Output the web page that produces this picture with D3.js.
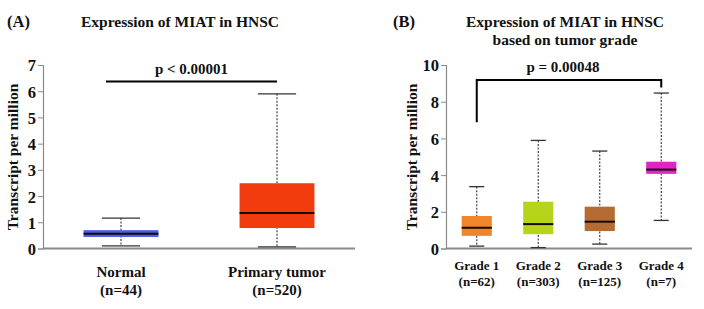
<!DOCTYPE html>
<html>
<head>
<meta charset="utf-8">
<script src="https://cdn.jsdelivr.net/npm/d3@7"></script>
<style>
  body { margin: 0; background: #fff; }
  svg text { font-family: "Liberation Serif", "Times New Roman", serif; font-weight: bold; fill: #111; }
</style>
</head>
<body>
<div id="chart"></div>
<script>
// ---- data ----
const groupsA = ['Normal', 'Primary tumor']
const countsA = ['(n=44)', '(n=520)']
const minA = [0.1, 0.06]
const q1A = [0.44, 0.78]
const medA = [0.56, 1.35]
const q3A = [0.70, 2.49]
const maxA = [1.16, 5.9]
const colorsA = ['#4a5ee0', '#f23c10']
const ticksA = [0, 1, 2, 3, 4, 5, 6, 7]
const sigA = { from: 'Normal', to: 'Primary tumor', y: 6.37, label: 'p < 0.00001' }

const groupsB = ['Grade 1', 'Grade 2', 'Grade 3', 'Grade 4']
const countsB = ['(n=62)', '(n=303)', '(n=125)', '(n=7)']
const minB = [0.13, 0.05, 0.24, 1.53]
const q1B = [0.69, 0.78, 0.95, 4.07]
const medB = [1.13, 1.33, 1.46, 4.30]
const q3B = [1.77, 2.55, 2.28, 4.73]
const maxB = [3.37, 5.89, 5.31, 8.47]
const colorsB = ['#f0862a', '#b6d41a', '#b46c32', '#e024c6']
const ticksB = [0, 2, 4, 6, 8, 10]
const sigB = { from: 'Grade 1', to: 'Grade 4', y: 9.18, leftEnd: 6.88, rightEnd: 8.78, label: 'p = 0.00048' }

const W = 704, H = 309

const svg = d3.select('#chart').append('svg')
    .attr('width', W)
    .attr('height', H)

function build_panel(opt) {
    const x = d3.scaleBand().domain(opt.groups).range([opt.left, opt.right])
    const y = d3.scaleLinear().domain([0, opt.ymax]).range([248.5, 65])
    const g = svg.append('g')

    // y axis
    const yAxis = g.append('g')
        .attr('transform', 'translate(' + opt.left + ',0)')
        .call(d3.axisLeft(y).tickValues(opt.ticks).tickFormat(d3.format('d')).tickSize(5).tickPadding(2))
    yAxis.select('.domain').attr('stroke', '#8a8a8a').attr('stroke-width', 1.2)
    yAxis.selectAll('.tick line').attr('stroke', '#8a8a8a')
    yAxis.selectAll('.tick text')
        .attr('font-size', 16.5)
        .attr('font-family', '"Liberation Serif", serif')
        .attr('font-weight', 'bold')
        .attr('fill', '#111')
        .attr('dy', '0.36em')

    // x axis line
    g.append('line')
        .attr('x1', opt.left).attr('x2', opt.right)
        .attr('y1', y(0)).attr('y2', y(0))
        .attr('stroke', '#8a8a8a').attr('stroke-width', 2)

    const bw = x.bandwidth() * opt.boxFrac
    const cw = x.bandwidth() * opt.capFrac

    opt.groups.forEach(function (name, i) {
        const cx = x(name) + x.bandwidth() / 2
        // whisker
        g.append('line')
            .attr('x1', cx).attr('x2', cx)
            .attr('y1', y(opt.max[i])).attr('y2', y(opt.min[i]))
            .attr('stroke', '#444').attr('stroke-width', 1.2)
            .attr('stroke-dasharray', '2,1.5')
        // caps
        ;[opt.max[i], opt.min[i]].forEach(function (v) {
            g.append('line')
                .attr('x1', cx - cw / 2).attr('x2', cx + cw / 2)
                .attr('y1', y(v)).attr('y2', y(v))
                .attr('stroke', '#333').attr('stroke-width', 1.3)
        })
        // box
        g.append('rect')
            .attr('x', cx - bw / 2)
            .attr('width', bw)
            .attr('y', y(opt.q3[i]))
            .attr('height', y(opt.q1[i]) - y(opt.q3[i]))
            .attr('fill', opt.colors[i])
        // median
        g.append('line')
            .attr('x1', cx - bw / 2).attr('x2', cx + bw / 2)
            .attr('y1', y(opt.med[i])).attr('y2', y(opt.med[i]))
            .attr('stroke', '#1a0a05').attr('stroke-width', 2)
        // labels
        g.append('text')
            .attr('x', cx).attr('y', opt.labelY)
            .attr('text-anchor', 'middle')
            .attr('font-size', opt.labelSize)
            .text(name)
        g.append('text')
            .attr('x', cx).attr('y', opt.labelY + opt.labelGap)
            .attr('text-anchor', 'middle')
            .attr('font-size', opt.labelSize)
            .text(opt.counts[i])
    })

    // y label
    g.append('text')
        .attr('transform', 'translate(' + opt.ylabelX + ',157) rotate(-90)')
        .attr('text-anchor', 'middle')
        .attr('font-size', 15.5)
        .text('Transcript per million')

    // titles
    g.append('text')
        .attr('x', opt.tagX).attr('y', 27)
        .attr('font-size', 16.5)
        .text(opt.tag)
    opt.title.forEach(function (t, k) {
        g.append('text')
            .attr('x', opt.titleX).attr('y', 27 + k * 18)
            .attr('text-anchor', 'middle')
            .attr('font-size', 15.5)
            .text(t)
    })

    return { g: g, x: x, y: y }
}

// ---- Panel A ----
const A = build_panel({
    groups: groupsA, counts: countsA, min: minA, q1: q1A, med: medA, q3: q3A, max: maxA,
    colors: colorsA, ticks: ticksA, ymax: 7, left: 43, right: 355,
    boxFrac: 0.48, capFrac: 0.245, labelY: 277, labelGap: 18, labelSize: 15,
    ylabelX: 18, tag: '(A)', tagX: 7, title: ['Expression of MIAT in HNSC'], titleX: 180
})
const ax1 = A.x(sigA.from) + A.x.bandwidth() / 2 - 15
const ax2 = A.x(sigA.to) + A.x.bandwidth() / 2
A.g.append('line')
    .attr('x1', ax1).attr('x2', ax2)
    .attr('y1', A.y(sigA.y)).attr('y2', A.y(sigA.y))
    .attr('stroke', '#000').attr('stroke-width', 2)
A.g.append('text')
    .attr('x', (ax1 + ax2) / 2).attr('y', A.y(sigA.y) - 8)
    .attr('text-anchor', 'middle').attr('font-size', 15)
    .text(sigA.label)

// ---- Panel B ----
const B = build_panel({
    groups: groupsB, counts: countsB, min: minB, q1: q1B, med: medB, q3: q3B, max: maxB,
    colors: colorsB, ticks: ticksB, ymax: 10, left: 446, right: 692,
    boxFrac: 0.49, capFrac: 0.245, labelY: 270, labelGap: 16, labelSize: 13,
    ylabelX: 417, tag: '(B)', tagX: 393, title: ['Expression of MIAT in HNSC', 'based on tumor grade'], titleX: 565
})
const bx1 = B.x(sigB.from) + B.x.bandwidth() / 2
const bx2 = B.x(sigB.to) + B.x.bandwidth() / 2
B.g.append('path')
    .attr('d', 'M' + bx1 + ',' + B.y(sigB.leftEnd) + 'V' + B.y(sigB.y) + 'H' + bx2 + 'V' + B.y(sigB.rightEnd))
    .attr('fill', 'none').attr('stroke', '#000').attr('stroke-width', 2)
B.g.append('text')
    .attr('x', (bx1 + bx2) / 2 - 6).attr('y', B.y(sigB.y) - 8)
    .attr('text-anchor', 'middle').attr('font-size', 15)
    .text(sigB.label)
</script>
</body>
</html>
